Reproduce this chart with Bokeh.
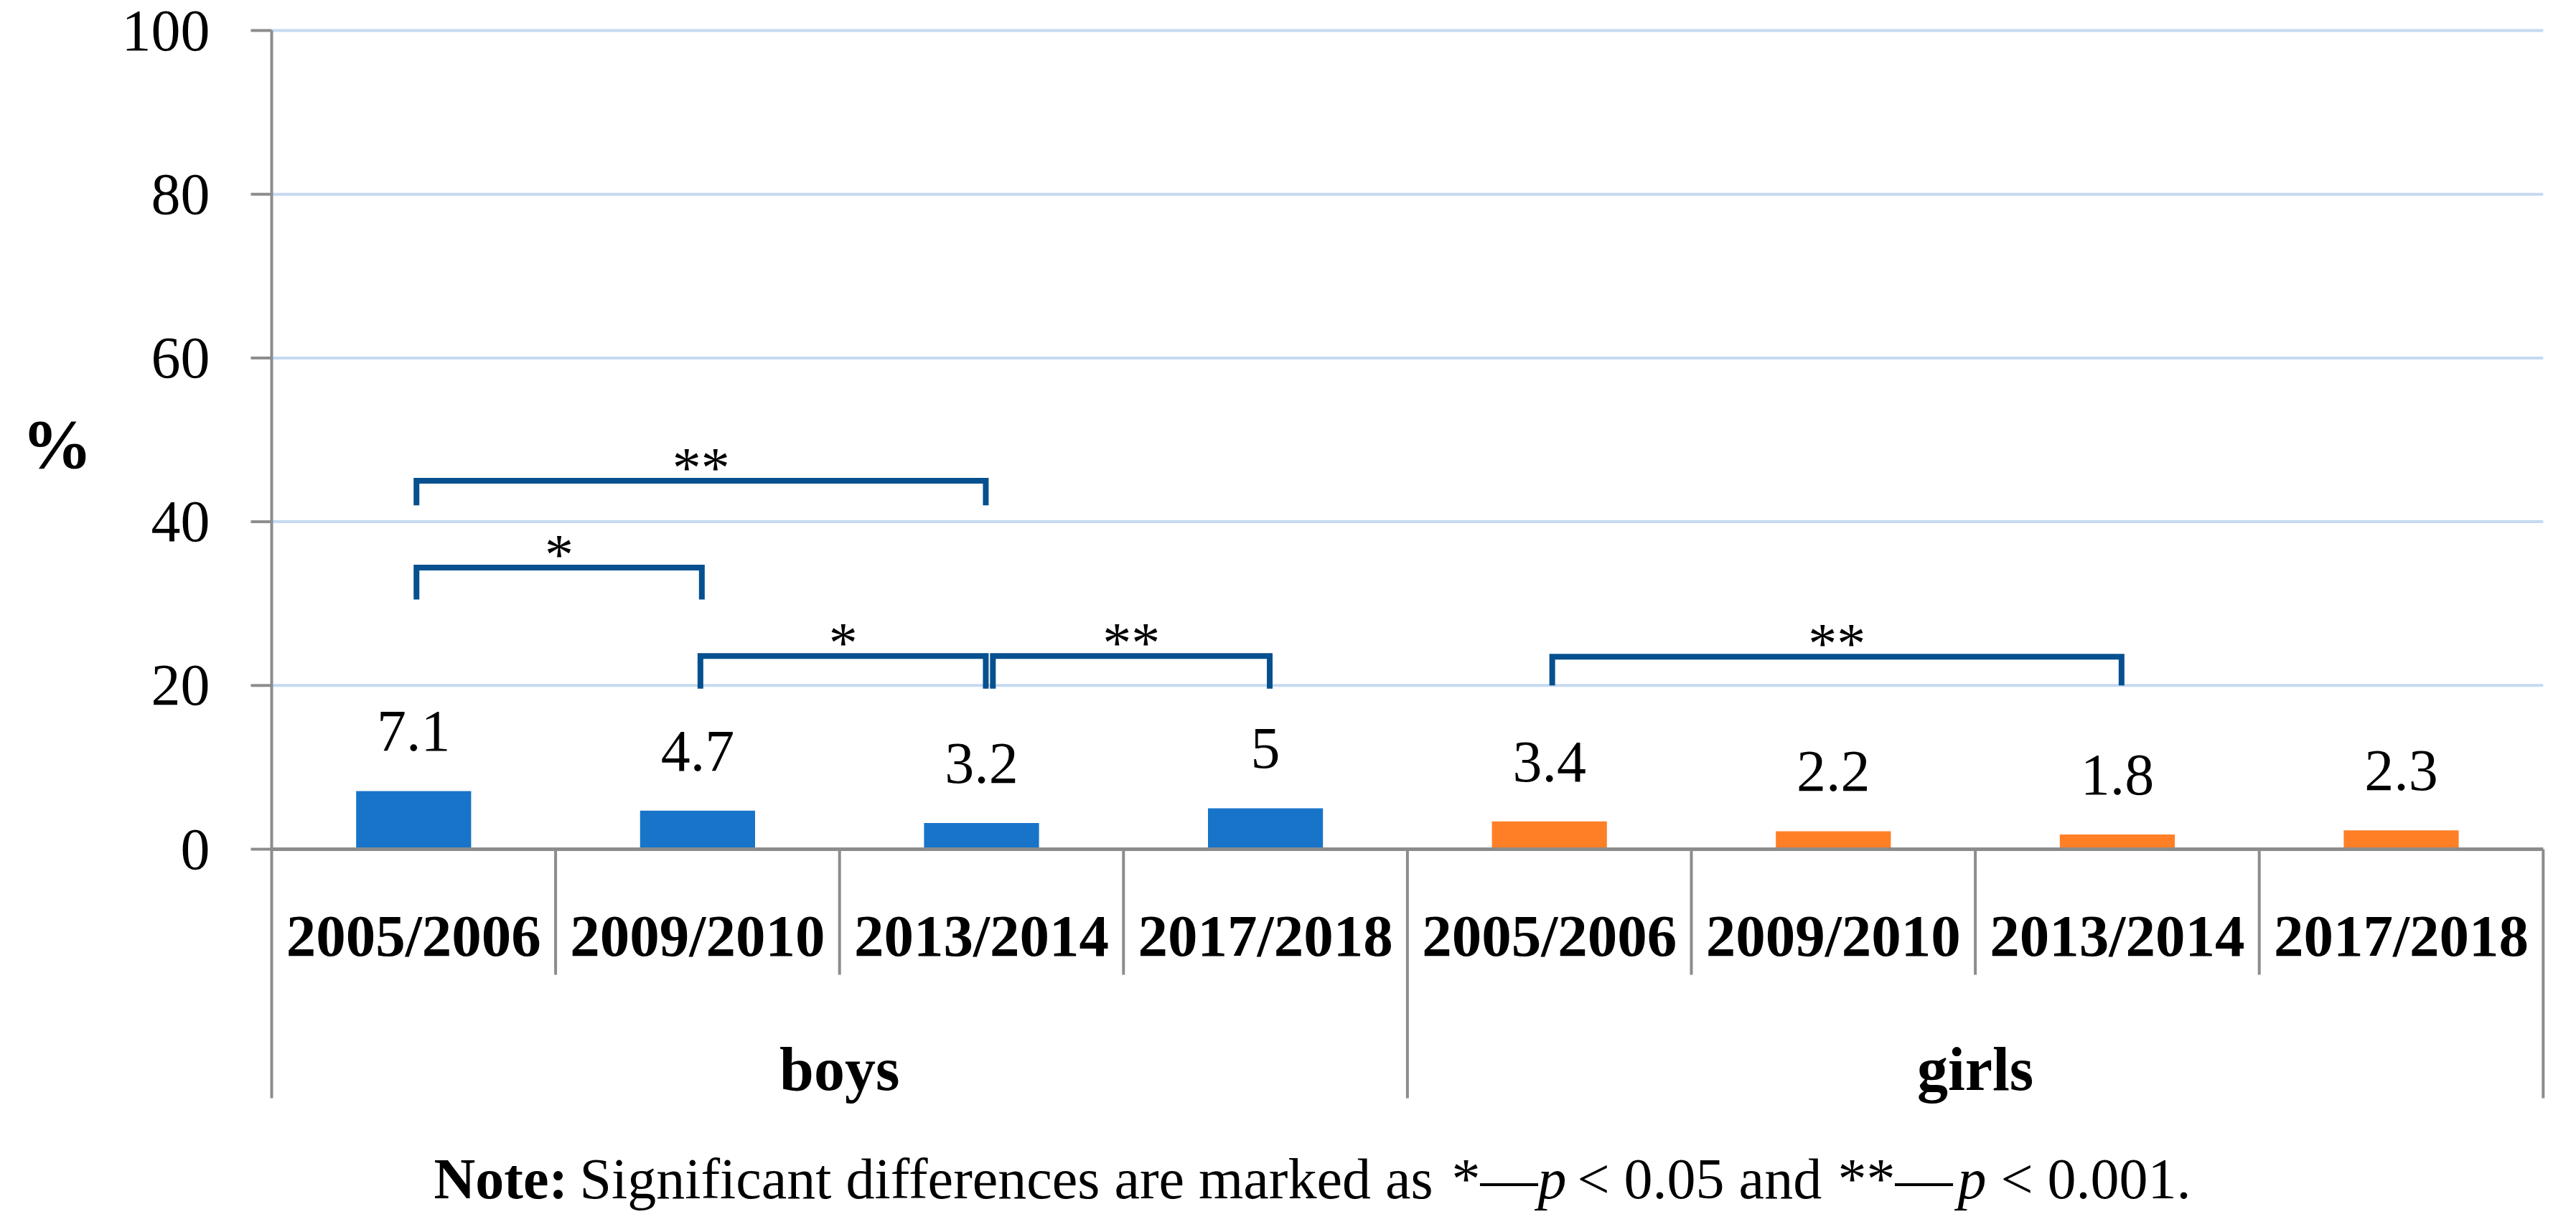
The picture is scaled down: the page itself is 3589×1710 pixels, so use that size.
from bokeh.plotting import figure
from bokeh.models import ColumnDataSource
from bokeh.core.properties import value
from bokeh.embed import file_html
from bokeh.resources import INLINE

# ---------------- data ----------------
groups = ["boys", "girls"]
years = ["2005/2006", "2009/2010", "2013/2014", "2017/2018"]
boys_pct = [7.1, 4.7, 3.2, 5]
girls_pct = [3.4, 2.2, 1.8, 2.3]
boys_text = ["7.1", "4.7", "3.2", "5"]
girls_text = ["3.4", "2.2", "1.8", "2.3"]
y_ticks = [0, 20, 40, 60, 80, 100]
y_tick_labels = ["0", "20", "40", "60", "80", "100"]
y_title = "%"

# significance brackets (category index from -> to, height of bar, leg end, mark)
sig_from = [0, 0, 1, 2, 4]
sig_to = [2, 1, 2, 3, 6]
sig_top = [45.0, 34.4, 23.6, 23.6, 23.5]
sig_leg = [42.0, 30.5, 19.6, 19.6, 20.0]
sig_mark = ["**", "*", "*", "**", "**"]

note_parts = ["Note:", "Significant differences are marked as", "*\u2014", "p",
              "< 0.05 and", "**\u2014", "p", "< 0.001."]
note_styles = ["bold", "normal", "normal", "italic", "normal", "normal", "italic", "normal"]

# ---------------- layout (pixels of the reference picture) ----------------
W, H = 3573, 1694
OFF = 8
REF_X0 = 386.0      # x = 0
CAT = 395.6         # px per category
REF_Y0 = 1191.0     # y = 0
UNIT = 11.41        # px per %

def dx(xr):
    return (xr - REF_X0) / CAT

def dy(yr):
    return (REF_Y0 - yr) / UNIT

FONT = "Liberation Serif"
GRAY = "#8c8c8c"
GRID = "#c5d9f1"
BRACKET = "#06508f"

y_bottom = dy(1538)

p = figure(width=W, height=H,
           x_range=(dx(OFF), dx(OFF + W)), y_range=(dy(OFF + H), dy(OFF)),
           output_backend="svg", toolbar_location=None,
           x_axis_type=None, y_axis_type=None,
           min_border_left=0, min_border_right=0,
           min_border_top=0, min_border_bottom=0)
p.title.visible = False
p.outline_line_color = None
p.background_fill_color = "white"
p.border_fill_color = "white"

ncat = len(years) * len(groups)

# ---------------- gridlines & value axis (drawn) ----------------
p.segment(x0=[0] * len(y_ticks), y0=y_ticks, x1=[ncat] * len(y_ticks), y1=y_ticks,
          line_color=GRID, line_width=4)
p.segment(x0=[0], y0=[100], x1=[0], y1=[y_bottom], line_color=GRAY, line_width=4)
p.segment(x0=[-29 / CAT] * len(y_ticks), y0=y_ticks, x1=[0] * len(y_ticks), y1=y_ticks,
          line_color=GRAY, line_width=4)
p.text(x=[dx(300)] * len(y_ticks), y=y_ticks, text=y_tick_labels,
       text_align="right", text_baseline="middle", text_font=value(FONT),
       text_font_size="82px", text_color="black")

# ---------------- bars ----------------
xs = [i + 0.5 for i in range(ncat)]
src = ColumnDataSource(dict(
    x=xs,
    top=boys_pct + girls_pct,
    color=["#1874c9"] * len(boys_pct) + ["#ff7f27"] * len(girls_pct),
    label=boys_text + girls_text,
))
p.vbar(x="x", top="top", bottom=0, width=0.405, fill_color="color",
       line_color=None, source=src)
p.text(x="x", y="top", text="label", y_offset=-83, text_align="center",
       text_baseline="middle", text_font=value(FONT), text_font_size="82px",
       text_color="black", source=src)

# ---------------- category axis (drawn) ----------------
p.segment(x0=[0], y0=[0], x1=[ncat], y1=[0], line_color=GRAY, line_width=5)
inner = [i for i in range(1, ncat) if i % len(years) != 0]
p.segment(x0=inner, y0=[0] * len(inner), x1=inner, y1=[dy(1366)] * len(inner),
          line_color=GRAY, line_width=4)
outer = [len(years) * (g + 1) for g in range(len(groups))]
p.segment(x0=outer, y0=[0] * len(outer), x1=outer, y1=[y_bottom] * len(outer),
          line_color=GRAY, line_width=4)
p.text(x=xs, y=[dy(1311)] * ncat, text=years * len(groups), text_align="center",
       text_baseline="middle", text_font=value(FONT), text_font_style="bold",
       text_font_size="83px", text_color="black")
gx = [len(years) * g + len(years) / 2 for g in range(len(groups))]
p.text(x=gx, y=[dy(1497)] * len(groups), text=groups, text_align="center",
       text_baseline="middle", text_font=value(FONT), text_font_style="bold",
       text_font_size="86px", text_color="black")

# ---------------- significance brackets ----------------
bxs, bys, mx = [], [], []
for a, b, t, l in zip(sig_from, sig_to, sig_top, sig_leg):
    shared = any(b2 == a and t2 == t for b2, t2 in zip(sig_to, sig_top))
    x1 = a + 0.5 + (0.04 if shared else 0.01)
    x2 = b + 0.5 + 0.015
    bxs.append([x1, x1, x2, x2])
    bys.append([l, t, t, l])
    mx.append((x1 + x2) / 2)
p.multi_line(xs=bxs, ys=bys, line_color=BRACKET, line_width=8,
             line_join="miter", line_cap="butt")
p.text(x=mx, y=sig_top, text=sig_mark, y_offset=-18, text_align="center",
       text_baseline="middle", text_font=value(FONT), text_font_size="80px",
       text_color="black")

# ---------------- note ----------------
note_x = [612, 815, 2030, 2150, 2205, 2568, 2735, 2795]
for txt, sty, xr in zip(note_parts, note_styles, note_x):
    p.text(x=[dx(xr)], y=[dy(1650)], text=[txt], text_align="left",
           text_baseline="middle", text_font=value(FONT), text_font_style=sty,
           text_font_size="80px", text_color="black")

# ---------------- y label "%" ----------------
ysrc = ColumnDataSource(dict(x=[dx(87)], y=[dy(626)], t=[y_title]))
p.text(x="x", y="y", text="t", source=ysrc, text_align="center",
       text_baseline="middle", text_font=value(FONT), text_font_style="bold",
       text_font_size="98px", text_color="black")

open("out.html", "w").write(file_html(p, INLINE))
